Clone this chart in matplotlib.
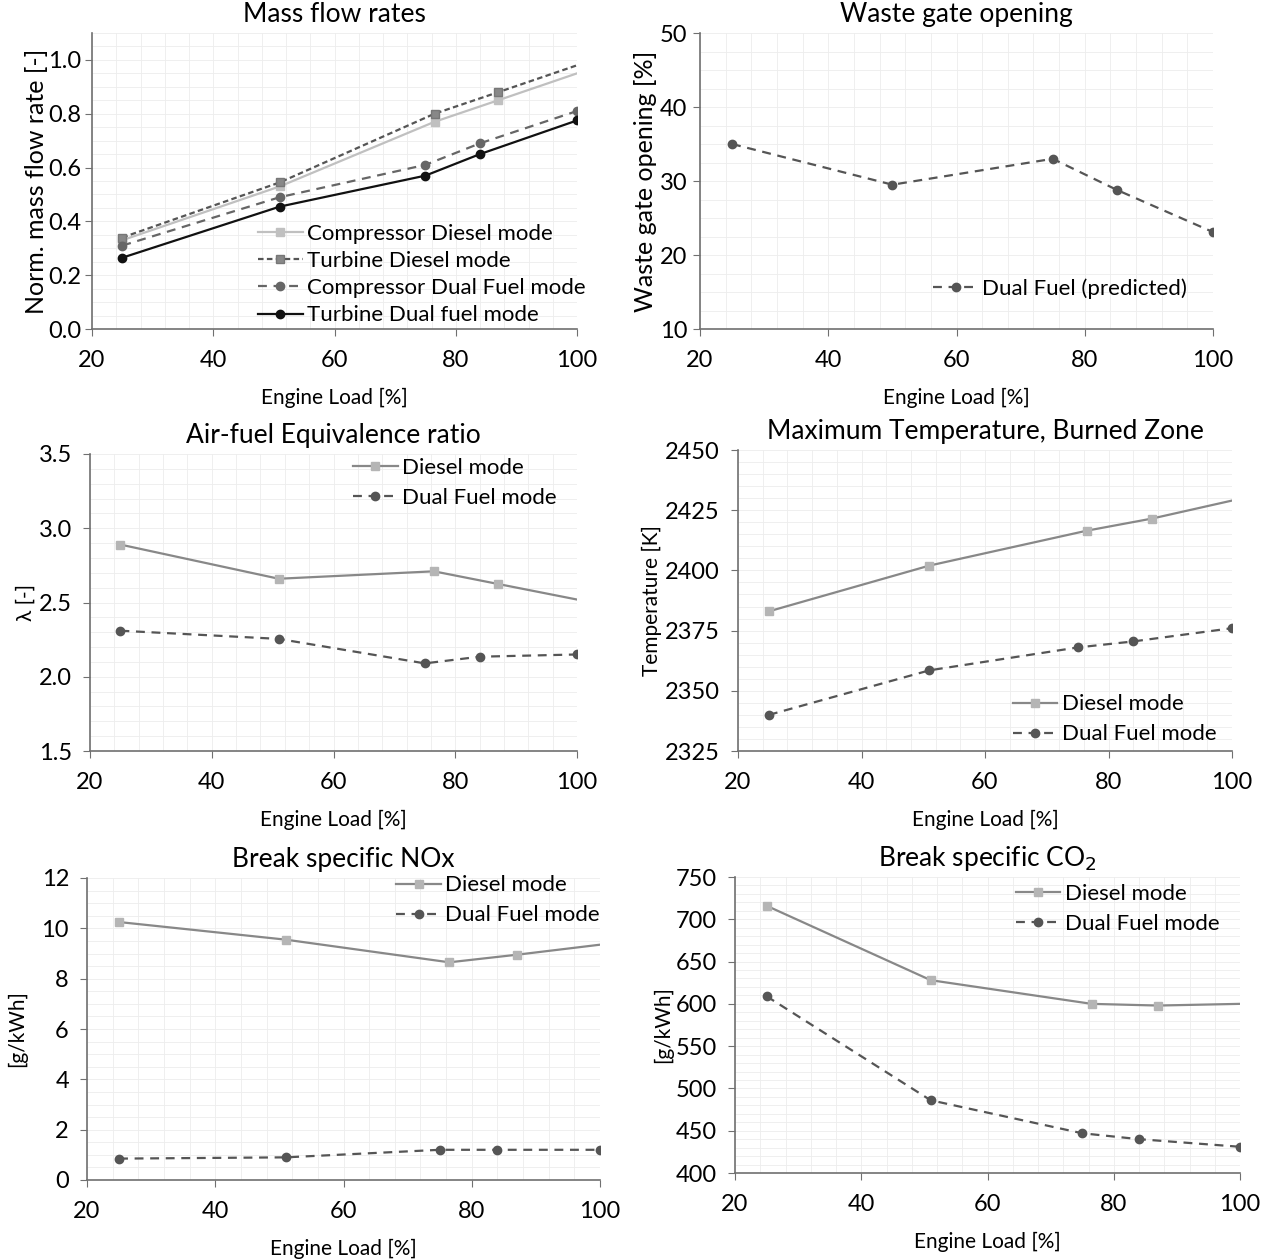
import matplotlib
matplotlib.use("Agg")
import matplotlib.pyplot as plt
from matplotlib.ticker import MultipleLocator, FormatStrFormatter

plt.rcParams["font.family"] = ["Lato", "DejaVu Sans"]

# engine load points
load_diesel = [25, 51, 76.5, 87, 100]
load_df = [25, 51, 75, 84, 100]
load_wg = [25, 50, 75, 85, 100]

# mass flow rates
comp_diesel = [0.33, 0.53, 0.77, 0.85, 0.95]
turb_diesel = [0.34, 0.545, 0.80, 0.88, 0.98]
comp_df = [0.31, 0.49, 0.61, 0.69, 0.81]
turb_df = [0.265, 0.455, 0.57, 0.65, 0.775]

# waste gate
wg_df = [35.0, 29.5, 33.0, 28.8, 23.1]

# lambda
lam_diesel = [2.89, 2.66, 2.71, 2.625, 2.52]
lam_df = [2.31, 2.255, 2.09, 2.135, 2.15]

# max temperature
tmax_diesel = [2383, 2402, 2416.5, 2421.5, 2429]
tmax_df = [2340, 2358.5, 2368, 2370.5, 2376]

# NOx
nox_diesel = [10.25, 9.55, 8.65, 8.95, 9.35]
nox_df = [0.85, 0.9, 1.2, 1.2, 1.2]

# CO2
co2_diesel = [716, 628, 600, 598, 600]
co2_df = [609, 486, 447, 440, 431]

W, H = 1274, 1259
fig = plt.figure(figsize=(W / 100, H / 100), dpi=100)


def axes_px(l, r, t, b):
    return fig.add_axes([l / W, 1 - b / H, (r - l) / W, (b - t) / H])


def style(ax, ymin, ymax, ymaj, ymin_step):
    ax.set_xlim(20, 100)
    ax.set_ylim(ymin, ymax)
    ax.xaxis.set_major_locator(MultipleLocator(20))
    ax.xaxis.set_minor_locator(MultipleLocator(4))
    ax.yaxis.set_major_locator(MultipleLocator(ymaj))
    ax.yaxis.set_minor_locator(MultipleLocator(ymin_step))
    ax.grid(which="both", color="#ededed", lw=0.6)
    ax.set_axisbelow(True)
    for s in ["top", "right"]:
        ax.spines[s].set_visible(False)
    for s in ["left", "bottom"]:
        ax.spines[s].set_color("#707070")
        ax.spines[s].set_linewidth(1.2)
    ax.tick_params(which="major", labelsize=17, color="#707070", length=5, direction="out")
    ax.tick_params(axis="x", pad=10)
    ax.tick_params(axis="y", pad=8)
    ax.tick_params(which="minor", length=0)
    ax.set_xlabel("Engine Load [%]", fontsize=15, labelpad=12)


def diesel_df(ax, yd, ydf, loc, bbox=None):
    ax.plot(load_diesel, yd, color="#888888", lw=1.6, label="Diesel mode",
            marker="s", markevery=[0, 1, 2, 3], ms=6, mfc="#b5b5b5", mec="#b5b5b5")
    ax.plot(load_df, ydf, color="#555555", lw=1.6, ls=(0, (4, 3)), label="Dual Fuel mode",
            marker="o", ms=6, mfc="#555555", mec="#555555")
    ax.legend(loc=loc, bbox_to_anchor=bbox, frameon=False, fontsize=16,
              handlelength=2.0, handletextpad=0.2, labelspacing=0.45, borderpad=0.2)


# Mass flow rates
ax1 = axes_px(92, 577, 33, 329)
style(ax1, 0, 1.1, 0.2, 0.05)
ax1.plot(load_diesel, comp_diesel, color="#c0c0c0", lw=1.6, marker="s", markevery=[0, 1, 2, 3],
         ms=6, mfc="#c0c0c0", mec="#c0c0c0", label="Compressor Diesel mode")
ax1.plot(load_diesel, turb_diesel, color="#555555", lw=1.6, ls=(0, (2.5, 1.5)), marker="s",
         markevery=[0, 1, 2, 3], ms=6, mfc="#888888", mec="#777777", label="Turbine Diesel mode")
ax1.plot(load_df, comp_df, color="#666666", lw=1.6, ls=(0, (4, 3)), marker="o", ms=6,
         mfc="#666666", mec="#666666", label="Compressor Dual Fuel mode")
ax1.plot(load_df, turb_df, color="#111111", lw=1.6, marker="o", ms=6,
         mfc="#111111", mec="#111111", label="Turbine Dual fuel mode")
ax1.set_yticks([0, 0.2, 0.4, 0.6, 0.8, 1.0])
ax1.yaxis.set_major_formatter(FormatStrFormatter("%.1f"))
ax1.tick_params(axis="y", pad=3)
ax1.set_ylabel("Norm. mass flow rate [-]", fontsize=18, labelpad=0)
ax1.set_title("Mass flow rates", fontsize=19, pad=8)
ax1.legend(loc="lower right", bbox_to_anchor=(1.05, -0.04), frameon=False, fontsize=16,
           handlelength=2.0, handletextpad=0.2, labelspacing=0.32, borderpad=0.2)

# Waste gate opening
ax2 = axes_px(700, 1213, 33, 329)
style(ax2, 10, 50, 10, 2.5)
ax2.plot(load_wg, wg_df, color="#555555", lw=1.6, ls=(0, (4, 3)), marker="o", ms=6,
         mfc="#555555", mec="#555555", label="Dual Fuel (predicted)")
ax2.tick_params(axis="y", pad=4)
ax2.set_ylabel("Waste gate opening [%]", fontsize=18, labelpad=2)
ax2.set_title("Waste gate opening", fontsize=19, pad=8)
ax2.legend(loc="lower right", bbox_to_anchor=(0.98, 0.05), frameon=False, fontsize=16,
           handlelength=2.0, handletextpad=0.2, borderpad=0.2)

# Lambda
ax3 = axes_px(90, 577, 454, 751)
style(ax3, 1.5, 3.5, 0.5, 0.1)
ax3.yaxis.set_major_formatter(FormatStrFormatter("%.1f"))
diesel_df(ax3, lam_diesel, lam_df, "upper right", (0.99, 1.04))
ax3.set_ylabel("λ [-]", fontsize=15, labelpad=2)
ax3.set_title("Air-fuel Equivalence ratio", fontsize=19, pad=8)

# Max temperature
ax4 = axes_px(738, 1232, 450, 751)
style(ax4, 2325, 2450, 25, 5)
diesel_df(ax4, tmax_diesel, tmax_df, "lower right", (1.0, -0.03))
ax4.set_ylabel("Temperature [K]", fontsize=15, labelpad=2)
ax4.set_title("Maximum Temperature, Burned Zone", fontsize=19, pad=8)

# NOx
ax5 = axes_px(87, 600, 878, 1180)
style(ax5, 0, 12, 2, 0.5)
diesel_df(ax5, nox_diesel, nox_df, "upper right", (1.03, 1.06))
ax5.set_ylabel("[g/kWh]", fontsize=15, labelpad=10)
ax5.set_title("Break specific NOx", fontsize=19, pad=8)

# CO2
ax6 = axes_px(735, 1240, 877, 1173)
style(ax6, 400, 750, 50, 10)
diesel_df(ax6, co2_diesel, co2_df, "upper right", (0.99, 1.03))
ax6.set_ylabel("[g/kWh]", fontsize=15, labelpad=2)
ax6.set_title("Break specific CO$_2$", fontsize=19, pad=8)

fig.savefig("out.png", dpi=100)
